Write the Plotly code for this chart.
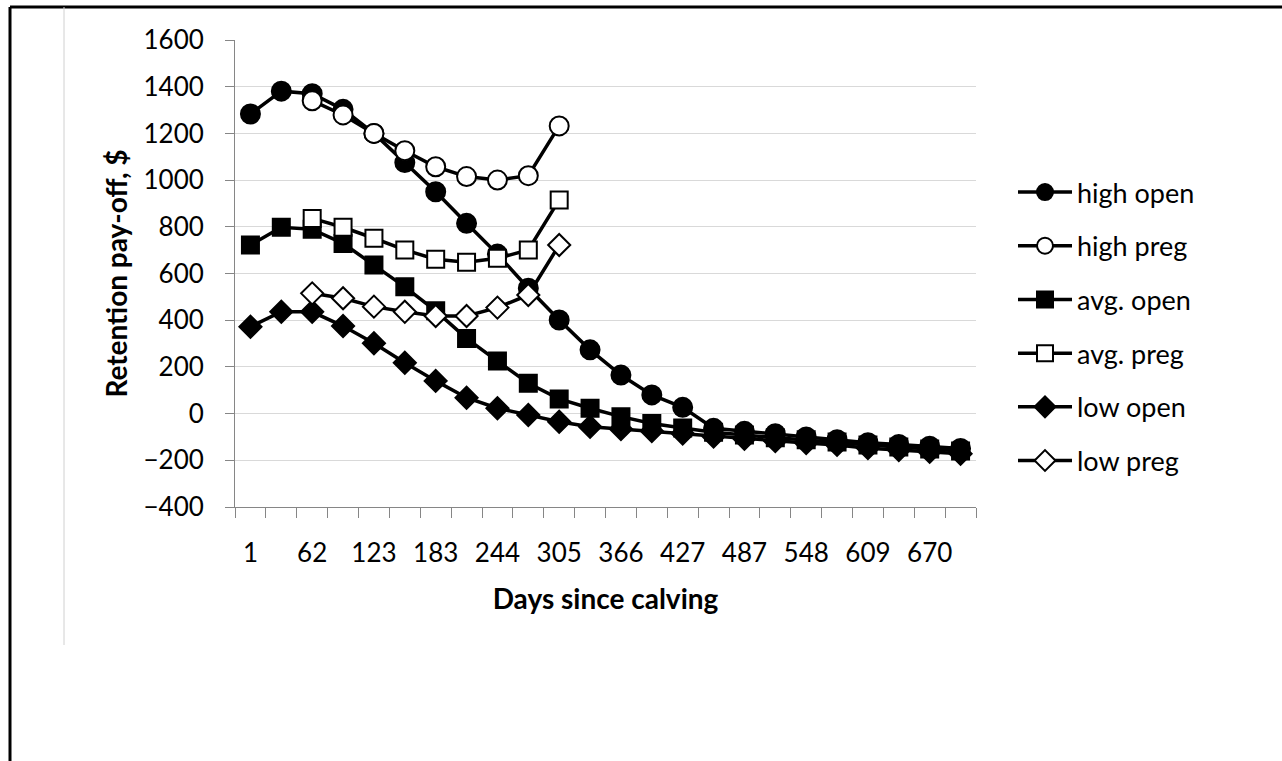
import plotly.graph_objects as go

# Days since calving (category positions on the x axis)
days = [1, 31, 62, 92, 123, 153, 183, 214, 244, 275, 305, 335,
        366, 396, 427, 457, 487, 518, 548, 579, 609, 639, 670, 700]

# Retention pay-off ($) per cow group
high_open = [1283, 1381, 1370, 1303, 1200, 1075, 950, 815, 683, 537, 401, 273,
             165, 80, 27, -63, -76, -86, -100, -112, -125, -132, -140, -149]
high_preg = [None, None, 1340, 1279, 1200, 1126, 1057, 1015, 1000, 1019, 1232, None,
             None, None, None, None, None, None, None, None, None, None, None, None]
avg_open = [722, 798, 789, 729, 636, 543, 440, 322, 225, 130, 63, 23,
            -13, -42, -62, -80, -92, -103, -112, -122, -134, -143, -152, -160]
avg_preg = [None, None, 836, 798, 751, 701, 661, 648, 665, 701, 915, None,
            None, None, None, None, None, None, None, None, None, None, None, None]
low_open = [372, 436, 436, 375, 301, 218, 140, 68, 23, -6, -35, -56,
            -66, -75, -85, -98, -108, -118, -126, -134, -148, -156, -164, -172]
low_preg = [None, None, 515, 494, 458, 436, 418, 418, 454, 508, 722, None,
            None, None, None, None, None, None, None, None, None, None, None, None]

series = [
    ("high open", high_open, "circle", "black", 19),
    ("high preg", high_preg, "circle", "white", 19),
    ("avg. open", avg_open, "square", "black", 17),
    ("avg. preg", avg_preg, "square", "white", 17),
    ("low open", low_open, "diamond", "black", 17),
    ("low preg", low_preg, "diamond", "white", 17),
]

FONT = "Lato, 'Open Sans', sans-serif"
W, H = 1282, 761
ML, MR, MT, MB = 235, 306, 40, 254
PW, PH = W - ML - MR, H - MT - MB

x_cat = [str(d) for d in days]

fig = go.Figure()
for name, vals, sym, fill, size in series:
    fig.add_trace(go.Scatter(
        x=x_cat, y=vals, name=name, mode="lines+markers",
        legendgroup=name,
        line=dict(color="black", width=3.5),
        marker=dict(symbol=sym, size=size, color=fill,
                    line=dict(color="black", width=2)),
        connectgaps=False,
    ))


def px_x(p):
    return (p - ML) / PW


def px_y(p):
    return (H - MB - p) / PH


# outer frame (top and left edges) and a faint divider line
shapes = [
    dict(type="line", xref="paper", yref="paper",
         x0=px_x(10), x1=px_x(W + 5), y0=px_y(7), y1=px_y(7),
         line=dict(color="black", width=3)),
    dict(type="line", xref="paper", yref="paper",
         x0=px_x(10), x1=px_x(10), y0=px_y(7), y1=px_y(H + 5),
         line=dict(color="black", width=3)),
    dict(type="line", xref="paper", yref="paper",
         x0=px_x(64), x1=px_x(64), y0=px_y(7), y1=px_y(645),
         line=dict(color="#d0d0d0", width=1)),
]

fig.update_layout(
    width=W, height=H,
    margin=dict(l=ML, r=MR, t=MT, b=MB, autoexpand=False),
    paper_bgcolor="white", plot_bgcolor="white",
    font=dict(family=FONT, size=26, color="black"),
    shapes=shapes,
    showlegend=True,
    legend=dict(
        x=px_x(1013), y=px_y(168), xanchor="left", yanchor="top",
        font=dict(family=FONT, size=27, color="black"),
        tracegroupgap=15.6, itemwidth=54,
        bgcolor="rgba(0,0,0,0)",
    ),
    xaxis=dict(
        type="category",
        categoryorder="array", categoryarray=x_cat,
        range=[-0.5, len(x_cat) - 0.5], autorange=False,
        tickmode="linear", dtick=1, ticklabelstep=2,
        tickson="boundaries", tickangle=0,
        ticks="outside", ticklen=10, tickwidth=1, tickcolor="#868686",
        showline=True, linecolor="#868686", linewidth=1,
        showgrid=False, zeroline=False,
        tickfont=dict(family=FONT, size=26, color="black"),
        ticklabelstandoff=23,
        title=dict(text="<b>Days since calving</b>",
                   font=dict(family=FONT, size=28, color="black"),
                   standoff=22),
    ),
    yaxis=dict(
        range=[-400, 1600], dtick=200, tick0=0,
        ticks="outside", ticklen=9, tickwidth=1, tickcolor="#868686",
        showline=True, linecolor="#868686", linewidth=1,
        showgrid=True, gridcolor="#d9d9d9", gridwidth=1,
        zeroline=False,
        tickfont=dict(family=FONT, size=26, color="black"),
        ticklabelstandoff=16,
        title=dict(text="<b>Retention pay-off, $</b>",
                   font=dict(family=FONT, size=28, color="black"),
                   standoff=7),
    ),
)

fig.write_html("out.html")
